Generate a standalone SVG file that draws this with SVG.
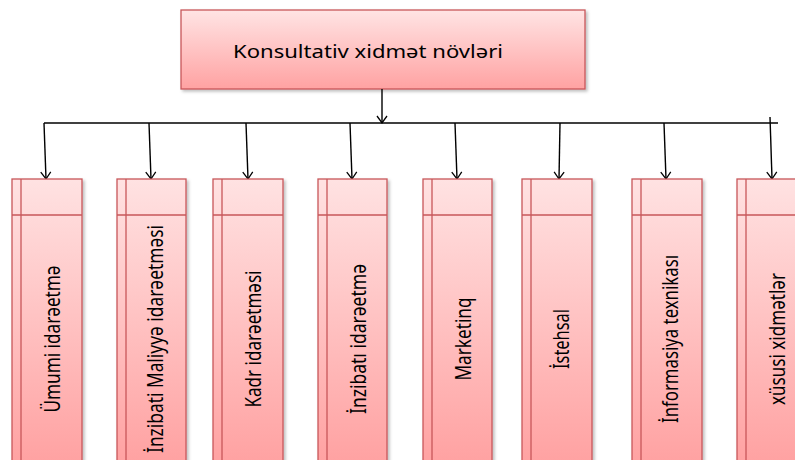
<svg xmlns="http://www.w3.org/2000/svg" width="795" height="460" viewBox="0 0 795 460">
<defs>
<linearGradient id="gTop" x1="0" y1="0" x2="0" y2="1">
<stop offset="0" stop-color="#FFE4E4"/>
<stop offset="1" stop-color="#FFA2A2"/>
</linearGradient>
<linearGradient id="gBox" gradientUnits="userSpaceOnUse" x1="0" y1="179" x2="0" y2="470">
<stop offset="0" stop-color="#FFE2E2"/>
<stop offset="1" stop-color="#FFA0A0"/>
</linearGradient>
<filter id="sh" x="-10%" y="-10%" width="130%" height="130%">
<feDropShadow dx="2" dy="2" stdDeviation="1.5" flood-color="#000" flood-opacity="0.25"/>
</filter>
<marker id="arr" markerWidth="12" markerHeight="12" refX="10" refY="6" orient="auto" markerUnits="userSpaceOnUse" viewBox="0 0 12 12">
<path d="M3,1 L10,6 L3,11" fill="none" stroke="#000" stroke-width="1.3"/>
</marker>
</defs>
<style>
.box{fill:url(#gBox);stroke:#C8575A;stroke-width:1.3;filter:url(#sh)}
.ln{stroke:#C8575A;stroke-width:1.3;fill:none}
.top{fill:url(#gTop);stroke:#C8575A;stroke-width:1.3;filter:url(#sh)}
.con{stroke:#000;stroke-width:1.4;fill:none}
.lbl{font-family:"Noto Sans","Open Sans",sans-serif;font-size:21px;fill:#000;text-anchor:middle;dominant-baseline:central}
.ttl{font-family:"Noto Sans","Open Sans",sans-serif;font-size:18px;fill:#000}
</style>

<g id="root">
<rect class="top" x="181" y="10" width="404" height="79"/>
<text class="ttl" x="233" y="58" textLength="270" lengthAdjust="spacingAndGlyphs">Konsultativ xidmət növləri</text>
</g>

<g id="connectors">
<line class="con" x1="382" y1="89" x2="382" y2="123" marker-end="url(#arr)"/>
<line class="con" x1="44" y1="123" x2="778" y2="123"/>
<line class="con" x1="44" y1="123" x2="46" y2="179" marker-end="url(#arr)"/>
<line class="con" x1="149" y1="123" x2="151" y2="179" marker-end="url(#arr)"/>
<line class="con" x1="246" y1="123" x2="248" y2="179" marker-end="url(#arr)"/>
<line class="con" x1="350" y1="123" x2="352" y2="179" marker-end="url(#arr)"/>
<line class="con" x1="455" y1="123" x2="457" y2="179" marker-end="url(#arr)"/>
<line class="con" x1="560" y1="123" x2="559" y2="179" marker-end="url(#arr)"/>
<line class="con" x1="664" y1="123" x2="666" y2="179" marker-end="url(#arr)"/>
<line class="con" x1="770" y1="117" x2="772" y2="179" marker-end="url(#arr)"/>
</g>

<g id="n1">
<rect class="box" x="12" y="179" width="70" height="300"/>
<path class="ln" d="M21,179 V479 M12,215 H82"/>
<text class="lbl" transform="translate(52,339) rotate(-90)" textLength="147" lengthAdjust="spacingAndGlyphs">Ümumi idarəetmə</text>
</g>
<g id="n2">
<rect class="box" x="117" y="179" width="69" height="300"/>
<path class="ln" d="M126,179 V479 M117,215 H186"/>
<text class="lbl" transform="translate(155,339) rotate(-90)" textLength="228" lengthAdjust="spacingAndGlyphs">İnzibati Maliyyə idarəetməsi</text>
</g>
<g id="n3">
<rect class="box" x="213" y="179" width="70" height="300"/>
<path class="ln" d="M222,179 V479 M213,215 H283"/>
<text class="lbl" transform="translate(253,339) rotate(-90)" textLength="137" lengthAdjust="spacingAndGlyphs">Kadr idarəetməsi</text>
</g>
<g id="n4">
<rect class="box" x="318" y="179" width="69" height="300"/>
<path class="ln" d="M327,179 V479 M318,215 H387"/>
<text class="lbl" transform="translate(358,339) rotate(-90)" textLength="150" lengthAdjust="spacingAndGlyphs">İnzibatı idarəetmə</text>
</g>
<g id="n5">
<rect class="box" x="423" y="179" width="69" height="300"/>
<path class="ln" d="M432,179 V479 M423,215 H492"/>
<text class="lbl" transform="translate(463,339) rotate(-90)" textLength="83" lengthAdjust="spacingAndGlyphs">Marketinq</text>
</g>
<g id="n6">
<rect class="box" x="522" y="179" width="70" height="300"/>
<path class="ln" d="M531,179 V479 M522,215 H592"/>
<text class="lbl" transform="translate(561,339) rotate(-90)" textLength="60" lengthAdjust="spacingAndGlyphs">İstehsal</text>
</g>
<g id="n7">
<rect class="box" x="632" y="179" width="70" height="300"/>
<path class="ln" d="M641,179 V479 M632,215 H702"/>
<text class="lbl" transform="translate(670,339) rotate(-90)" textLength="168" lengthAdjust="spacingAndGlyphs">İnformasiya texnikası</text>
</g>
<g id="n8">
<rect class="box" x="737" y="179" width="70" height="300"/>
<path class="ln" d="M746,179 V479 M737,215 H807"/>
<text class="lbl" transform="translate(777,339) rotate(-90)" textLength="132" lengthAdjust="spacingAndGlyphs">xüsusi xidmətlər</text>
</g>
</svg>
